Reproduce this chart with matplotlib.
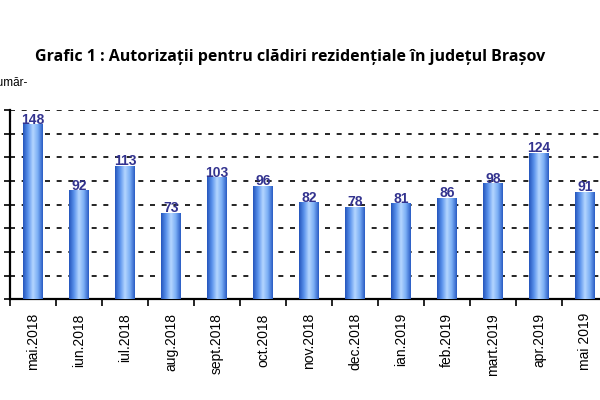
import numpy as np
import matplotlib
matplotlib.use('Agg')
import matplotlib.pyplot as plt
from matplotlib.colors import LinearSegmentedColormap

luni = ['mai.2018', 'iun.2018', 'iul.2018', 'aug.2018', 'sept.2018', 'oct.2018',
        'nov.2018', 'dec.2018', 'ian.2019', 'feb.2019', 'mart.2019', 'apr.2019', 'mai 2019']
autorizatii = [148, 92, 113, 73, 103, 96, 82, 78, 81, 86, 98, 124, 91]

titlu = 'Grafic 1 : Autorizații pentru clădiri rezidențiale în județul Brașov'
eticheta_y = 'Număr-'

fig = plt.figure(figsize=(6, 4), dpi=100)
# chart is cropped on the left and right in the original
ax = fig.add_axes([10 / 600, 100.7 / 400, 598 / 600, 189.3 / 400])

x = np.arange(len(luni))
w = 0.43

# cylinder-like gradient for the bars
grad = LinearSegmentedColormap.from_list('cil', ['#2556bd', '#5b93ec', '#b4d6ff', '#7aaef5', '#2a5cc4'])
row = np.linspace(0, 1, 64).reshape(1, -1)
bars = ax.bar(x, autorizatii, width=w, color='#5b93ec', zorder=2)
for b in bars:
    im = ax.imshow(row, cmap=grad, aspect='auto', zorder=3,
                   extent=[b.get_x(), b.get_x() + b.get_width(), 0, b.get_height()])
    im.set_clip_path(b)

for xi, v in zip(x, autorizatii):
    ax.text(xi, v - 2, str(v), ha='center', va='bottom', fontsize=10,
            color='#33338f', fontweight='bold', family='Liberation Sans', zorder=4)

ax.set_xlim(-0.5, len(luni) - 0.5)
ax.set_ylim(0, 160)
ax.set_yticks(np.arange(0, 161, 20))
ax.set_yticklabels([])
ax.tick_params(axis='y', length=4, width=1.2, direction='out')
ax.yaxis.grid(True, linestyle=(0, (3, 4)), color='black', linewidth=1.2, zorder=0)
ax.set_axisbelow(True)

ax.set_xticks(x - 0.5, minor=False)
ax.set_xticklabels([])
ax.set_xticks(x, minor=True)
ax.set_xticklabels(luni, minor=True, rotation=90, fontsize=10, family='Liberation Sans')
ax.tick_params(axis='x', which='major', length=5, width=1.2, direction='out')
ax.tick_params(axis='x', which='minor', length=0, pad=10)

for s in ['top', 'right']:
    ax.spines[s].set_visible(False)
ax.spines['left'].set_linewidth(1.6)
ax.spines['bottom'].set_linewidth(1.6)

fig.text(290 / 600, 1 - 57 / 400, titlu, ha='center', va='center', fontsize=11.5,
         fontweight='bold', family='Open Sans')
fig.text(27 / 600, 1 - 83 / 400, eticheta_y, ha='right', va='center', fontsize=8.5,
         family='Liberation Sans')

fig.savefig('out.png', dpi=100)
